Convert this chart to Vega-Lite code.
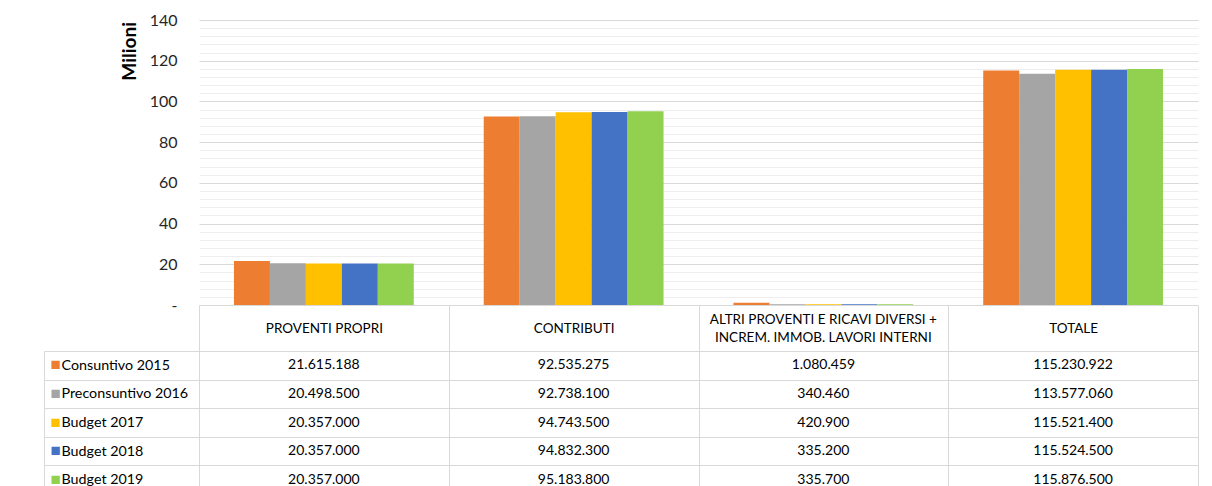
{
  "$schema": "https://vega.github.io/schema/vega-lite/v6.json",
  "padding": {"left": 43, "top": 12, "right": 10, "bottom": 0},
  "background": "white",
  "spacing": 46,
  "bounds": "flush",
  "config": {
    "font": "Lato",
    "view": {"stroke": null},
    "locale": {"number": {"decimal": ",", "thousands": ".", "grouping": [3], "currency": ["€", ""]}}
  },
  "data": {
    "values": [
      {"voce": "PROVENTI PROPRI", "serie": "Consuntivo 2015", "valore": 21615188},
      {"voce": "PROVENTI PROPRI", "serie": "Preconsuntivo 2016", "valore": 20498500},
      {"voce": "PROVENTI PROPRI", "serie": "Budget 2017", "valore": 20357000},
      {"voce": "PROVENTI PROPRI", "serie": "Budget 2018", "valore": 20357000},
      {"voce": "PROVENTI PROPRI", "serie": "Budget 2019", "valore": 20357000},
      {"voce": "CONTRIBUTI", "serie": "Consuntivo 2015", "valore": 92535275},
      {"voce": "CONTRIBUTI", "serie": "Preconsuntivo 2016", "valore": 92738100},
      {"voce": "CONTRIBUTI", "serie": "Budget 2017", "valore": 94743500},
      {"voce": "CONTRIBUTI", "serie": "Budget 2018", "valore": 94832300},
      {"voce": "CONTRIBUTI", "serie": "Budget 2019", "valore": 95183800},
      {"voce": "ALTRI PROVENTI E RICAVI DIVERSI + INCREM. IMMOB. LAVORI INTERNI", "serie": "Consuntivo 2015", "valore": 1080459},
      {"voce": "ALTRI PROVENTI E RICAVI DIVERSI + INCREM. IMMOB. LAVORI INTERNI", "serie": "Preconsuntivo 2016", "valore": 340460},
      {"voce": "ALTRI PROVENTI E RICAVI DIVERSI + INCREM. IMMOB. LAVORI INTERNI", "serie": "Budget 2017", "valore": 420900},
      {"voce": "ALTRI PROVENTI E RICAVI DIVERSI + INCREM. IMMOB. LAVORI INTERNI", "serie": "Budget 2018", "valore": 335200},
      {"voce": "ALTRI PROVENTI E RICAVI DIVERSI + INCREM. IMMOB. LAVORI INTERNI", "serie": "Budget 2019", "valore": 335700},
      {"voce": "TOTALE", "serie": "Consuntivo 2015", "valore": 115230922},
      {"voce": "TOTALE", "serie": "Preconsuntivo 2016", "valore": 113577060},
      {"voce": "TOTALE", "serie": "Budget 2017", "valore": 115521400},
      {"voce": "TOTALE", "serie": "Budget 2018", "valore": 115524500},
      {"voce": "TOTALE", "serie": "Budget 2019", "valore": 115876500}
    ]
  },
  "vconcat": [
    {
      "width": 999,
      "height": 285,
      "mark": {"type": "bar"},
      "encoding": {
        "x": {
          "field": "voce", "type": "nominal",
          "sort": ["PROVENTI PROPRI", "CONTRIBUTI", "ALTRI PROVENTI E RICAVI DIVERSI + INCREM. IMMOB. LAVORI INTERNI", "TOTALE"],
          "scale": {"paddingInner": 0.28, "paddingOuter": 0.14},
          "axis": null
        },
        "xOffset": {
          "field": "serie", "type": "nominal",
          "sort": ["Consuntivo 2015", "Preconsuntivo 2016", "Budget 2017", "Budget 2018", "Budget 2019"],
          "scale": {"paddingInner": 0, "paddingOuter": 0}
        },
        "y": {
          "field": "valore", "type": "quantitative",
          "scale": {"domain": [0, 140000000], "nice": false},
          "axis": {
            "values": [0, 4000000, 8000000, 12000000, 16000000, 20000000, 24000000, 28000000, 32000000, 36000000, 40000000, 44000000, 48000000, 52000000, 56000000, 60000000, 64000000, 68000000, 72000000, 76000000, 80000000, 84000000, 88000000, 92000000, 96000000, 100000000, 104000000, 108000000, 112000000, 116000000, 120000000, 124000000, 128000000, 132000000, 136000000, 140000000],
            "labelExpr": "datum.value === 0 ? '-   ' : (datum.value % 20000000 === 0 ? format(datum.value / 1000000, 'd') : '')",
            "labelOverlap": false,
            "labelFontSize": 16,
            "labelColor": "#262626",
            "labelPadding": 22,
            "labelBaseline": "middle",
            "ticks": false,
            "domain": false,
            "grid": true,
            "gridColor": {"condition": {"test": "datum.value % 20000000 === 0", "value": "#d9d9d9"}, "value": "#eeeeee"},
            "title": "Milioni",
            "titleFontSize": 19,
            "titleFontWeight": "bold",
            "titleColor": "#000000",
            "titleAngle": -90,
            "titleX": -79,
            "titleY": 1.5,
            "titleAlign": "right",
            "titleBaseline": "top"
          }
        },
        "color": {
          "field": "serie", "type": "nominal",
          "scale": {
            "domain": ["Consuntivo 2015", "Preconsuntivo 2016", "Budget 2017", "Budget 2018", "Budget 2019"],
            "range": ["#ED7D31", "#A5A5A5", "#FFC000", "#4472C4", "#92D050"]
          },
          "legend": null
        }
      }
    },
    {
      "width": 999,
      "height": 143,
      "view": {"stroke": "#d9d9d9"},
      "layer": [
        {
          "mark": {"type": "text", "fontSize": 14, "font": "Lato", "color": "#000000"},
          "encoding": {
            "x": {
              "field": "voce", "type": "nominal",
              "sort": ["PROVENTI PROPRI", "CONTRIBUTI", "ALTRI PROVENTI E RICAVI DIVERSI + INCREM. IMMOB. LAVORI INTERNI", "TOTALE"],
              "scale": {"paddingInner": 0, "paddingOuter": 0},
              "axis": {
                "orient": "top", "title": null,
                "tickBand": "extent", "tickSize": 46, "tickColor": "#d9d9d9",
                "domain": false, "grid": true, "gridColor": "#d9d9d9",
                "labelPadding": -23, "labelBaseline": "middle", "labelAngle": 0,
                "labelFontSize": 13.5, "labelColor": "#000000", "labelLimit": 0,
                "labelExpr": "datum.value === 'ALTRI PROVENTI E RICAVI DIVERSI + INCREM. IMMOB. LAVORI INTERNI' ? '' : datum.value"
              }
            },
            "y": {
              "field": "serie", "type": "nominal",
              "sort": ["Consuntivo 2015", "Preconsuntivo 2016", "Budget 2017", "Budget 2018", "Budget 2019"],
              "scale": {"paddingInner": 0, "paddingOuter": 0},
              "axis": {
                "orient": "left", "title": null,
                "tickBand": "extent", "tickSize": 155, "tickColor": "#d9d9d9",
                "grid": true, "gridColor": "#d9d9d9", "domainColor": "#d9d9d9",
                "labelAlign": "left", "labelPadding": -17, "labelFontSize": 14.3,
                "labelColor": "#000000", "labelBaseline": "middle", "labelLimit": 0
              }
            },
            "text": {"field": "valore", "type": "quantitative", "format": ",d"}
          }
        },
        {
          "mark": {"type": "text", "opacity": 0},
          "encoding": {
            "x": {
              "field": "voce", "type": "nominal",
              "sort": ["PROVENTI PROPRI", "CONTRIBUTI", "ALTRI PROVENTI E RICAVI DIVERSI + INCREM. IMMOB. LAVORI INTERNI", "TOTALE"],
              "axis": {
                "orient": "top", "title": null,
                "ticks": false, "tickSize": 0, "domain": false, "grid": false,
                "labelPadding": 32, "labelBaseline": "middle", "labelAngle": 0,
                "labelFontSize": 13.5, "labelColor": "#000000", "labelLimit": 0, "labelLineHeight": 18,
                "labelExpr": "datum.value === 'ALTRI PROVENTI E RICAVI DIVERSI + INCREM. IMMOB. LAVORI INTERNI' ? ['ALTRI PROVENTI E RICAVI DIVERSI +', 'INCREM. IMMOB. LAVORI INTERNI'] : ''"
              }
            },
            "y": {
              "field": "serie", "type": "nominal",
              "sort": ["Consuntivo 2015", "Preconsuntivo 2016", "Budget 2017", "Budget 2018", "Budget 2019"],
              "axis": {
                "orient": "left", "offset": 155, "title": null,
                "ticks": false, "tickSize": 0, "grid": false, "domainColor": "#d9d9d9",
                "labelExpr": "'■'", "labelAlign": "left", "labelPadding": -6, "labelFontSize": 17,
                "labelBaseline": "middle",
                "labelColor": {
                  "condition": [
                    {"test": "datum.value === 'Consuntivo 2015'", "value": "#ED7D31"},
                    {"test": "datum.value === 'Preconsuntivo 2016'", "value": "#A5A5A5"},
                    {"test": "datum.value === 'Budget 2017'", "value": "#FFC000"},
                    {"test": "datum.value === 'Budget 2018'", "value": "#4472C4"}
                  ],
                  "value": "#92D050"
                }
              }
            },
            "text": {"value": ""}
          }
        }
      ],
      "resolve": {"axis": {"x": "independent", "y": "independent"}}
    }
  ]
}
